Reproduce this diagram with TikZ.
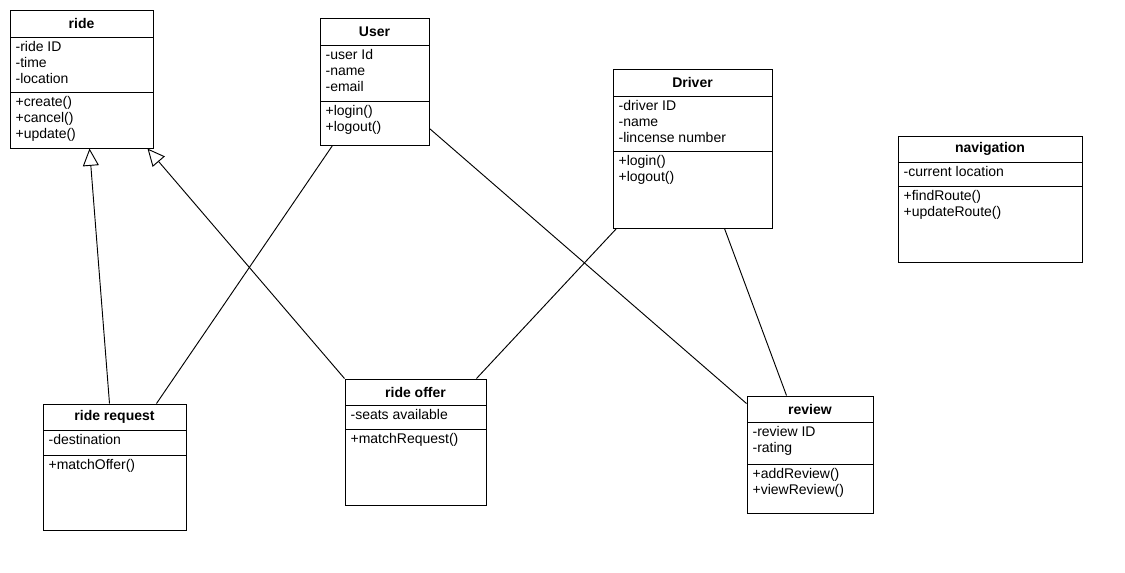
\documentclass[tikz,border=0pt]{standalone}
\usepackage{fontspec}
\setmainfont{Liberation Sans}
\usetikzlibrary{arrows.meta,calc}
\newcommand{\umlbox}[9]{%
  \node[box, minimum width={(#4-#2)*0.75pt}, minimum height={(#5-#3)*0.75pt}] (#1) at ({(#2+#4)/2},{(#3+#5)/2}) {};
  \draw (#2,#7) -- (#4,#7);
  \draw (#2,#8) -- (#4,#8);
  \node[title] (#1-t) at ({(#2+#4)/2},{(#3+#7)/2}) {#6};
  \node[txt] (#1-a) at (#2+4,#7+3) {#9};
  \node[txt] (#1-o) at (#2+4,#8+3) {\opsarg};
}
\begin{document}
\begin{tikzpicture}[x=0.75pt,y=-0.75pt,
  box/.style={draw, fill=white, inner sep=0pt, line width=0.75pt},
  title/.style={font=\fontsize{10.5}{12}\selectfont\bfseries},
  txt/.style={anchor=north west, align=left, inner sep=1pt, font=\fontsize{10.5}{11.8}\selectfont},
  link/.style={line width=0.7pt},
  gen/.style={line width=0.7pt, -{Triangle[open, length=13pt, width=12pt]}}]
\useasboundingbox (0,0) rectangle (1125,572);
\def\opsarg{+create()\\+cancel()\\+update()}
\umlbox{ride}{10}{10}{153}{148}{ride}{37}{92}{-ride ID\\-time\\-location}
\def\opsarg{+login()\\+logout()}
\umlbox{user}{320}{18}{429}{145}{User}{45}{101}{-user Id\\-name\\-email}
\def\opsarg{+login()\\+logout()}
\umlbox{driver}{613}{69}{772}{228}{Driver}{96}{151}{-driver ID\\-name\\-lincense number}
\def\opsarg{+findRoute()\\+updateRoute()}
\umlbox{nav}{898}{136}{1082}{262}{navigation}{162}{186}{-current location}
\def\opsarg{+matchOffer()}
\umlbox{rreq}{43}{404}{186}{530}{ride request}{430}{455}{-destination}
\def\opsarg{+matchRequest()}
\umlbox{roff}{345}{379}{486}{505}{ride offer}{405}{429}{-seats available}
\def\opsarg{+addReview()\\+viewReview()}
\umlbox{rev}{747}{396}{873}{513}{review}{422}{464}{-review ID\\-rating}
% connectors
\draw[gen] ($(rreq.north west)+(67,0)$) -- ($(ride.south west)+(80,0)$);
\draw[gen] (roff.north west) -- ($(ride.south west)+(138,0)$);
\draw[link] ($(user.south west)+(13,0)$) -- ($(rreq.north west)+(114,0)$);
\draw[link] ($(user.south east)+(0,-17)$) -- ($(rev.north west)+(0,8)$);
\draw[link] ($(driver.south west)+(4,0)$) -- ($(roff.north east)+(-10,0)$);
\draw[link] ($(driver.south west)+(112,0)$) -- ($(rev.north west)+(40,0)$);
\end{tikzpicture}
\end{document}
